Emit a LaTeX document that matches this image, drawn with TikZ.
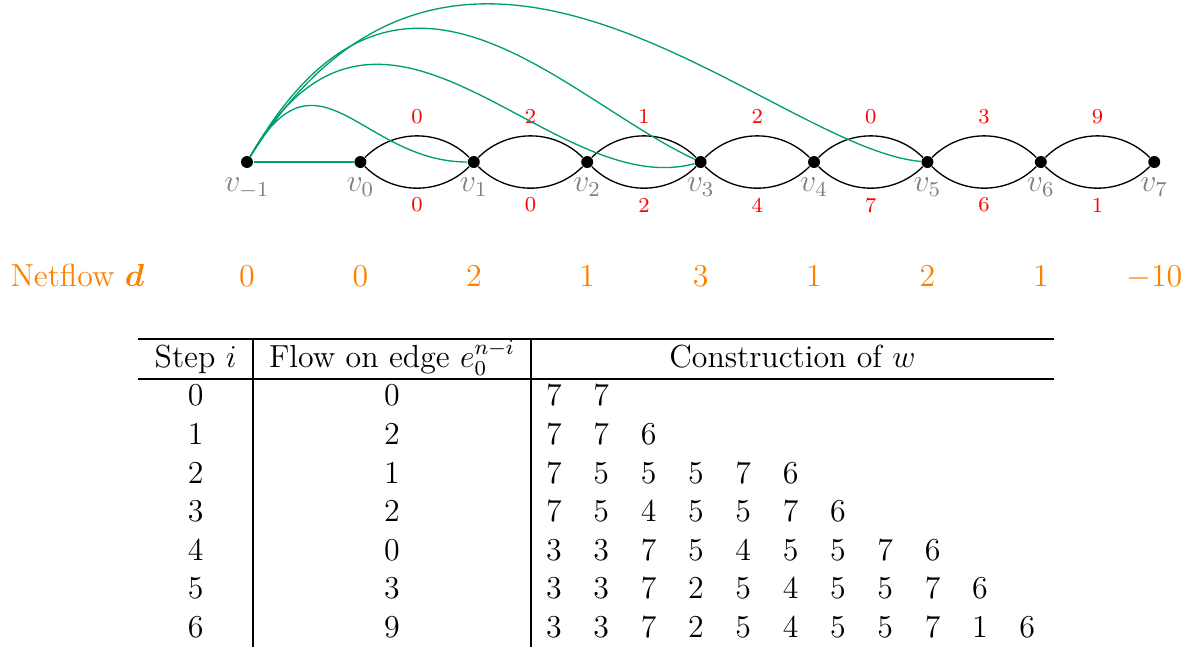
\documentclass[tikz,border=0pt]{standalone}
\usepackage{amsmath,amssymb}
\usepackage{tikz}
\usetikzlibrary{positioning,calc}
\definecolor{flowgreen}{RGB}{0,158,115}

\begin{document}
\begin{tikzpicture}[
  vert/.style={circle, fill, inner sep=0pt, minimum size=4.5pt},
  vlab/.style={gray, font=\large},
  lens/.style={black, line width=0.5pt},
  flow/.style={flowgreen, line width=0.5pt},
  wt/.style={red, font=\footnotesize},
  nf/.style={orange, font=\large, anchor=base},
  cell/.style={font=\large, anchor=base}
]
\useasboundingbox (-3.267,-6.415) rectangle (12.46,2.143);

% vertices of the path
\foreach \k in {-1,...,7}
  \node[vert, label={[vlab]below:$v_{\k}$}] (v\k) at ({1.5*(\k+1)},0) {};

% two parallel edges between neighbours, with their flows
\foreach \i/\j/\a/\b in {0/1/0/0, 1/2/2/0, 2/3/1/2, 3/4/2/4, 4/5/0/7, 5/6/3/6, 6/7/9/1} {
  \draw[lens] (v\i) to[bend left=45] (v\j);
  \draw[lens] (v\i) to[bend right=45] (v\j);
  \node[wt] (up\i) at ($(v\i)!0.5!(v\j)+(0,0.6)$) {\a};
  \node[wt] (lo\i) at ($(v\i)!0.5!(v\j)-(0,0.57)$) {\b};
}

% edges out of v_{-1}
\draw[flow] (v-1) -- (v0);
\draw[flow] (v-1) to[out=60, in=180, out distance=1.8cm, in distance=1.4cm] (v1);
\draw[flow] (v-1) to[out=60, in=195, out distance=3.5cm, in distance=2cm] (v3);
\draw[flow] (v-1) to[out=60, in=155, out distance=3.9cm, in distance=2cm] (v3);
\draw[flow] (v-1) to[out=58, in=175, out distance=5.3cm, in distance=2cm] (v5);

% netflow row
\node[nf, anchor=base west, inner sep=0pt] (nfl) at (-3.135,-1.64) {Netflow $\boldsymbol{d}$};
\foreach \n [count=\k from -1] in {0,0,2,1,3,1,2,1,-10}
  \node[nf] (d\k) at (v\k |- nfl.base) {$\n$};

% table
\draw[line width=0.8pt] (-1.442,-2.341) -- (10.675,-2.341);
\draw[line width=0.5pt] (-1.442,-2.87) -- (10.675,-2.87);
\draw[line width=0.5pt] (0.079,-2.341) -- (0.079,-6.415);
\draw[line width=0.5pt] (3.757,-2.341) -- (3.757,-6.415);
\node[cell] (hs) at (-0.68,-2.72) {Step $i$};
\node[cell] (hf) at (1.918,-2.72) {Flow on edge $e_0^{n-i}$};
\node[cell] (hw) at (7.215,-2.72) {Construction of $w$};
\foreach \f/\w [count=\r from 0] in {0/{7,7}, 2/{7,7,6}, 1/{7,5,5,5,7,6},
    2/{7,5,4,5,5,7,6}, 0/{3,3,7,5,4,5,5,7,6}, 3/{3,3,7,2,5,4,5,5,7,6},
    9/{3,3,7,2,5,4,5,5,7,1,6}} {
  \node[cell] (s\r) at (-0.68,{-3.225-0.5106*\r}) {$\r$};
  \node[cell] (f\r) at (1.918,{-3.225-0.5106*\r}) {$\f$};
  \foreach \d [count=\c from 0] in \w
    \node[cell] (w\r-\c) at ({4.06+0.626*\c},{-3.225-0.5106*\r}) {$\d$};
}
\end{tikzpicture}
\end{document}
